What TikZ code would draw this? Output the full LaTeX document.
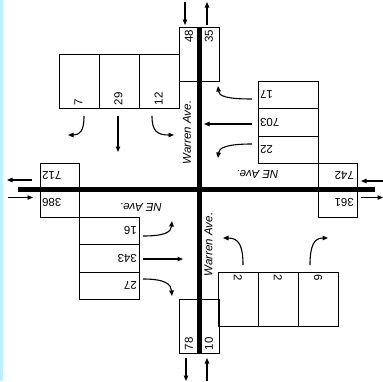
\documentclass[tikz,border=0pt]{standalone}
\usepackage{fontspec}
\setmainfont{Liberation Sans}
\usetikzlibrary{arrows.meta}
\definecolor{edgecyan}{RGB}{190,240,255}

\begin{document}
\begin{tikzpicture}[x=1pt,y=-1pt,
  cell/.style={draw,line width=0.8pt,anchor=north west,inner sep=0pt},
  num/.style={font=\fontsize{11.5}{13}\selectfont,inner sep=1pt},
  street/.style={font=\fontsize{11.5}{13}\selectfont\itshape,inner sep=0pt},
  flow/.style={line width=1.1pt,-{Triangle[length=5.5pt,width=4.5pt]}}]
\useasboundingbox (0,0) rectangle (383,381);
\fill[edgecyan] (0,0) rectangle (2.5,381);

% approach boxes
\begin{scope}[every node/.append style={cell}]
\node[minimum width=40pt,minimum height=54pt] (sbL) at (58.5,54) {};
\node[minimum width=40pt,minimum height=54pt] (sbT) at (98.5,54) {};
\node[minimum width=40pt,minimum height=54pt] (sbR) at (138.5,54) {};
\node[minimum width=21pt,minimum height=54pt] (sbIn) at (178.5,27) {};
\node[minimum width=19pt,minimum height=54pt] (sbOut) at (199.5,27) {};
\node[minimum width=60pt,minimum height=27pt] (wbL) at (258,81) {};
\node[minimum width=60pt,minimum height=28pt] (wbT) at (258,108) {};
\node[minimum width=60pt,minimum height=27pt] (wbR) at (258,136) {};
\node[minimum width=39pt,minimum height=26.5pt] (wbIn) at (318,163) {};
\node[minimum width=39pt,minimum height=27.5pt] (ebOut) at (318,189.5) {};
\node[minimum width=39pt,minimum height=26.5pt] (wbOut) at (40,163) {};
\node[minimum width=39pt,minimum height=27.5pt] (ebIn) at (40,189.5) {};
\node[minimum width=60pt,minimum height=27pt] (ebL) at (79,217) {};
\node[minimum width=60pt,minimum height=28pt] (ebT) at (79,244) {};
\node[minimum width=60pt,minimum height=27pt] (ebR) at (79,272) {};
\node[minimum width=40pt,minimum height=54pt] (nbL) at (218,272) {};
\node[minimum width=40pt,minimum height=54pt] (nbT) at (258,272) {};
\node[minimum width=40pt,minimum height=54pt] (nbR) at (298,272) {};
\node[minimum width=21pt,minimum height=54pt] (nbOut) at (178.5,299) {};
\node[minimum width=19pt,minimum height=54pt] (nbIn) at (199.5,299) {};
\end{scope}

% counts
\begin{scope}[every node/.append style={num}]
\node[rotate=90,anchor=west] (tSbL) at (78.5,106.5) {7};
\node[rotate=90,anchor=west] (tSbT) at (118.5,106.5) {29};
\node[rotate=90,anchor=west] (tSbR) at (158.5,106.5) {12};
\node[rotate=90,anchor=east] (tSbIn) at (189,28.5) {48};
\node[rotate=90,anchor=east] (tSbOut) at (209,28.5) {35};
\node[rotate=180,anchor=east] (tWbL) at (259,94.5) {17};
\node[rotate=180,anchor=east] (tWbT) at (259,122) {703};
\node[rotate=180,anchor=east] (tWbR) at (259,149.5) {22};
\node[rotate=180,anchor=west] (tWbIn) at (355,175.5) {742};
\node[rotate=180,anchor=west] (tEbOut) at (355,202) {361};
\node[rotate=180,anchor=east] (tWbOut) at (41,175.5) {712};
\node[rotate=180,anchor=east] (tEbIn) at (41,202) {386};
\node[rotate=180,anchor=west] (tEbL) at (138,230.5) {16};
\node[rotate=180,anchor=west] (tEbT) at (138,258) {343};
\node[rotate=180,anchor=west] (tEbR) at (138,285.5) {27};
\node[rotate=-90,anchor=west] (tNbL) at (238,273.5) {2};
\node[rotate=-90,anchor=west] (tNbT) at (278,273.5) {2};
\node[rotate=-90,anchor=west] (tNbR) at (318,273.5) {6};
\node[rotate=90,anchor=west] (tNbOut) at (189,351.5) {78};
\node[rotate=90,anchor=west] (tNbIn) at (209,351.5) {10};
\end{scope}

% roads
\draw[line width=4.5pt] (199.5,27) -- (199.5,353);
\draw[line width=4.5pt] (18,189.5) -- (375,189.5);
\node[street,rotate=90] (warrenN) at (187,132.5) {Warren Ave.};
\node[street,rotate=90] (warrenS) at (208.5,244.5) {Warren Ave.};
\node[street,rotate=180] (neE) at (257.5,174) {NE Ave.};
\node[street,rotate=180] (neW) at (141,207.5) {NE Ave.};

% arrow ends
\coordinate (aSbIn1) at (185,2);    \coordinate (aSbIn2) at (185,25);
\coordinate (aSbOut1) at (207,25);  \coordinate (aSbOut2) at (207,2);
\coordinate (aWbOut1) at (32,180);  \coordinate (aWbOut2) at (7,180);
\coordinate (aEbIn1) at (8,197.5);  \coordinate (aEbIn2) at (33,197.5);
\coordinate (aWbIn1) at (383,181);  \coordinate (aWbIn2) at (361,181);
\coordinate (aEbOut1) at (361,197.5); \coordinate (aEbOut2) at (383,197.5);
\coordinate (aNbOut1) at (186,358); \coordinate (aNbOut2) at (186,381);
\coordinate (aNbIn1) at (207,381);  \coordinate (aNbIn2) at (207,358);
\coordinate (mSbL1) at (84,116);  \coordinate (mSbL2) at (68,135);
\coordinate (mSbT1) at (118,116); \coordinate (mSbT2) at (118,152);
\coordinate (mSbR1) at (152,116); \coordinate (mSbR2) at (174,135);
\coordinate (mWbL1) at (252,99);  \coordinate (mWbL2) at (218,86);
\coordinate (mWbT1) at (252,124); \coordinate (mWbT2) at (204,124);
\coordinate (mWbR1) at (252,144); \coordinate (mWbR2) at (218,158);
\coordinate (mEbL1) at (143,236); \coordinate (mEbL2) at (172,221);
\coordinate (mEbT1) at (143,259); \coordinate (mEbT2) at (183,259);
\coordinate (mEbR1) at (143,279); \coordinate (mEbR2) at (172,296);
\coordinate (mNbL1) at (243,265); \coordinate (mNbL2) at (223,238);
\coordinate (mNbR1) at (310,265); \coordinate (mNbR2) at (328,238);

\draw[flow] (aSbIn1) -- (aSbIn2);
\draw[flow] (aSbOut1) -- (aSbOut2);
\draw[flow] (aWbOut1) -- (aWbOut2);
\draw[flow] (aEbIn1) -- (aEbIn2);
\draw[flow] (aWbIn1) -- (aWbIn2);
\draw[flow] (aEbOut1) -- (aEbOut2);
\draw[flow] (aNbOut1) -- (aNbOut2);
\draw[flow] (aNbIn1) -- (aNbIn2);
\draw[flow] (mSbL1) .. controls (84,131) and (80,135) .. (mSbL2);
\draw[flow] (mSbT1) -- (mSbT2);
\draw[flow] (mSbR1) .. controls (152,131) and (157,135) .. (mSbR2);
\draw[flow] (mWbL1) .. controls (226,99) and (219,96) .. (mWbL2);
\draw[flow] (mWbT1) -- (mWbT2);
\draw[flow] (mWbR1) .. controls (226,144) and (219,148) .. (mWbR2);
\draw[flow] (mEbL1) .. controls (165,236) and (171,232) .. (mEbL2);
\draw[flow] (mEbT1) -- (mEbT2);
\draw[flow] (mEbR1) .. controls (165,279) and (171,284) .. (mEbR2);
\draw[flow] (mNbL1) .. controls (243,246) and (239,238) .. (mNbL2);
\draw[flow] (mNbR1) .. controls (310,246) and (314,238) .. (mNbR2);
\end{tikzpicture}
\end{document}
